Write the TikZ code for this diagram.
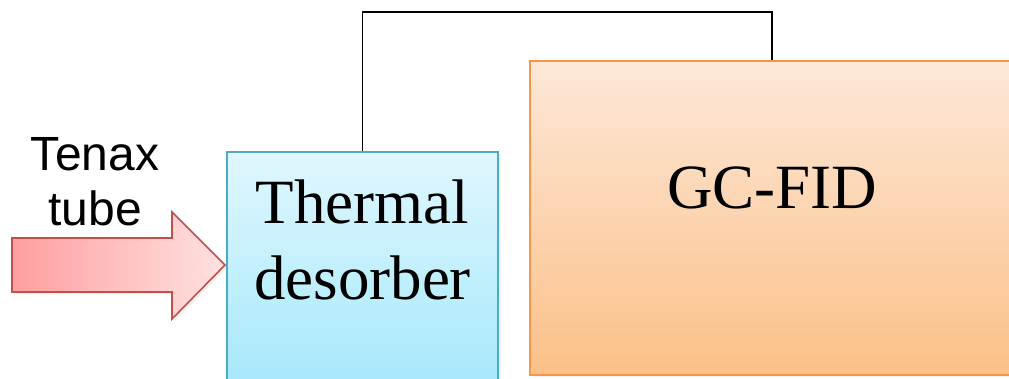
\documentclass[tikz,border=0pt]{standalone}
\usepackage{fontspec}
\setmainfont{Liberation Serif}
\newfontfamily\arialf{Liberation Sans}
\usetikzlibrary{shadows}
\definecolor{bluefillT}{HTML}{E0F7FE}
\definecolor{bluefillB}{HTML}{A4E8FB}
\definecolor{blueline}{HTML}{4BACC6}
\definecolor{orfillT}{HTML}{FDE8D8}
\definecolor{orfillB}{HTML}{FBC088}
\definecolor{orline}{HTML}{F79646}
\definecolor{redL}{HTML}{FF9F9F}
\definecolor{redR}{HTML}{FFE1E1}
\definecolor{redline}{HTML}{C0504D}
\tikzset{
  boxbase/.style={rectangle, line width=1.6pt, inner sep=0pt,
    drop shadow={opacity=0.12, shadow xshift=3pt, shadow yshift=-2pt}},
  bluebox/.style={boxbase, draw=blueline, top color=bluefillT, bottom color=bluefillB},
  orbox/.style={boxbase, draw=orline, top color=orfillT, bottom color=orfillB},
  serifbig/.style={font=\fontsize{63}{76}\selectfont, inner sep=0pt, anchor=base},
  sanslbl/.style={font=\arialf\fontsize{48}{55}\selectfont, inner sep=0pt, anchor=base},
  conn/.style={draw=black, line width=1.6pt},
  bigarrow/.style={draw=redline, line width=1.6pt, left color=redL, right color=redR,
    line join=miter,
    drop shadow={opacity=0.12, shadow xshift=3pt, shadow yshift=-2pt}}
}
\begin{document}
\begin{tikzpicture}[x=1pt,y=-1pt]
\useasboundingbox (0,0) rectangle (1009,378);
\clip (0,0) rectangle (1009,378);
% boxes
\node[orbox, minimum width=484pt, minimum height=314pt] (gc) at (772,218) {};
\node[bluebox, minimum width=271pt, minimum height=240pt] (td) at (362.5,272) {};
% connector
\draw[conn] (td.north) -- ++(0,-139) -| (gc.north);
% input arrow
\path[bigarrow] (12,238) -- (172,238) -- (172,212) -- (225,265) -- (172,319) -- (172,292) -- (12,292) -- cycle;
% texts
\node[sanslbl] (tenax) at (95,170) {Tenax};
\node[sanslbl] (tube) at (95,225) {tube};
\node[serifbig] (thermal) at (362.5,223) {Thermal};
\node[serifbig] (desorber) at (362.5,299) {desorber};
\node[serifbig] (gcfid) at (772,208) {GC-FID};
\end{tikzpicture}
\end{document}
